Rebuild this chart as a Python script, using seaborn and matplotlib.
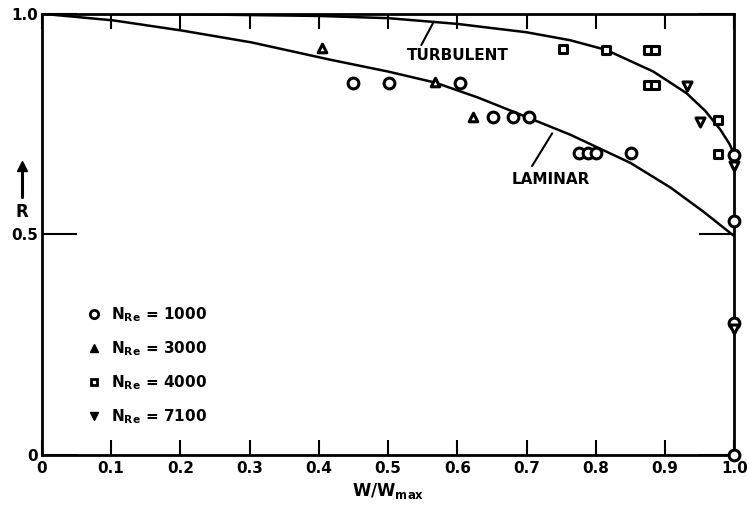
import numpy as np
import pandas as pd
import matplotlib.pyplot as plt
import seaborn as sns
from matplotlib.lines import Line2D

# Curves
lam_x = [0.0, 0.103, 0.202, 0.303, 0.416, 0.5, 0.568, 0.63, 0.681, 0.763, 0.85, 0.908, 0.955, 1.0]
lam_r = [1.0, 0.985, 0.962, 0.935, 0.896, 0.869, 0.844, 0.810, 0.778, 0.726, 0.662, 0.606, 0.552, 0.496]
turb_x = [0.0, 0.2, 0.4, 0.5, 0.6, 0.7, 0.763, 0.815, 0.883, 0.931, 0.958, 0.980, 0.993, 0.999, 1.0]
turb_r = [1.0, 0.999, 0.995, 0.990, 0.977, 0.958, 0.940, 0.918, 0.869, 0.820, 0.780, 0.737, 0.705, 0.685, 0.660]

# Data points, one set per Reynolds number
re1000_x = [0.450, 0.502, 0.604, 0.652, 0.681, 0.704, 0.776, 0.789, 0.801, 0.851, 1.0, 1.0, 1.0, 1.0]
re1000_r = [0.844, 0.844, 0.844, 0.766, 0.766, 0.767, 0.685, 0.685, 0.685, 0.685, 0.680, 0.531, 0.300, 0.0]
re3000_x = [0.405, 0.568, 0.623]
re3000_r = [0.923, 0.846, 0.767]
re4000_x = [0.753, 0.815, 0.875, 0.886, 0.875, 0.886, 0.977, 0.977]
re4000_r = [0.920, 0.918, 0.918, 0.918, 0.839, 0.839, 0.760, 0.683]
re7100_x = [0.931, 0.951, 1.0, 1.0]
re7100_r = [0.837, 0.755, 0.655, 0.285]

xticks = [0, 0.1, 0.2, 0.3, 0.4, 0.5, 0.6, 0.7, 0.8, 0.9, 1.0]
xtick_labels = ['0', '0.1', '0.2', '0.3', '0.4', '0.5', '0.6', '0.7', '0.8', '0.9', '1.0']
yticks = [0, 0.5, 1.0]
ytick_labels = ['0', '0.5', '1.0']

sns.set_style('white')
plt.rcParams['font.family'] = ['DejaVu Sans']
plt.rcParams['font.weight'] = 'bold'
plt.rcParams['text.color'] = 'black'
plt.rcParams['axes.labelcolor'] = 'black'
plt.rcParams['xtick.color'] = 'black'
plt.rcParams['ytick.color'] = 'black'

fig = plt.figure(figsize=(7.47, 5.09), dpi=100)
ax = fig.add_axes([0.056, 0.106, 0.927, 0.867])

sns.lineplot(x=lam_x, y=lam_r, sort=False, color='black', lw=1.8, ax=ax)
sns.lineplot(x=turb_x, y=turb_r, sort=False, color='black', lw=1.8, ax=ax)

groups = [
    (re1000_x, re1000_r, 'o', 60),
    (re3000_x, re3000_r, '^', 38),
    (re4000_x, re4000_r, 's', 32),
    (re7100_x, re7100_r, 'v', 42),
]
for gx, gr, mk, size in groups:
    sns.scatterplot(x=gx, y=gr, marker=mk, s=size, facecolor='white',
                    edgecolor='black', linewidth=2.2, ax=ax, zorder=5)
for coll in ax.collections:
    coll.set_clip_on(False)

ax.set_xlim(0, 1)
ax.set_ylim(0, 1)
ax.set_xticks(xticks)
ax.set_xticklabels(xtick_labels, fontsize=11, fontweight='bold')
ax.set_yticks(yticks)
ax.set_yticklabels(ytick_labels, fontsize=11, fontweight='bold')
ax.tick_params(axis='x', direction='in', length=11, width=1.5, bottom=True, top=True, pad=4)
ax.tick_params(axis='y', direction='in', length=25, width=1.5, left=True, right=True, pad=3)
for s in ax.spines.values():
    s.set_color('black')
    s.set_linewidth(2)

ax.set_xlabel('W/W$_{\\mathbf{max}}$', fontsize=12, fontweight='bold', labelpad=4)
ax.set_ylabel('')

# R with the arrow on the left
fig.text(0.029, 0.583, 'R', fontsize=12, fontweight='bold', ha='center', va='center')
fig.add_artist(Line2D([0.030, 0.030], [0.613, 0.672], color='black', lw=2.2))
fig.add_artist(Line2D([0.030], [0.674], marker='^', color='black', markersize=7))

# curve labels with leader lines
ax.text(0.60, 0.905, 'TURBULENT', fontsize=11, fontweight='bold', ha='center', va='center')
ax.plot([0.548, 0.566], [0.929, 0.982], color='black', lw=1.5)
ax.text(0.735, 0.625, 'LAMINAR', fontsize=11, fontweight='bold', ha='center', va='center')
ax.plot([0.708, 0.737], [0.655, 0.729], color='black', lw=1.5)

handles = [
    Line2D([], [], ls='', marker='o', ms=6, mfc='white', mec='black', mew=2),
    Line2D([], [], ls='', marker='^', ms=6, mfc='black', mec='black'),
    Line2D([], [], ls='', marker='s', ms=5, mfc='white', mec='black', mew=2),
    Line2D([], [], ls='', marker='v', ms=6, mfc='black', mec='black'),
]
labels = ['N$_{\\mathbf{Re}}$ = 1000', 'N$_{\\mathbf{Re}}$ = 3000',
          'N$_{\\mathbf{Re}}$ = 4000', 'N$_{\\mathbf{Re}}$ = 7100']
ax.legend(handles, labels, loc='upper left', bbox_to_anchor=(0.045, 0.37), frameon=False,
          prop={'size': 11, 'weight': 'bold'}, handlelength=1, handletextpad=0.6, labelspacing=1.0)

plt.savefig('out.png', dpi=100)
